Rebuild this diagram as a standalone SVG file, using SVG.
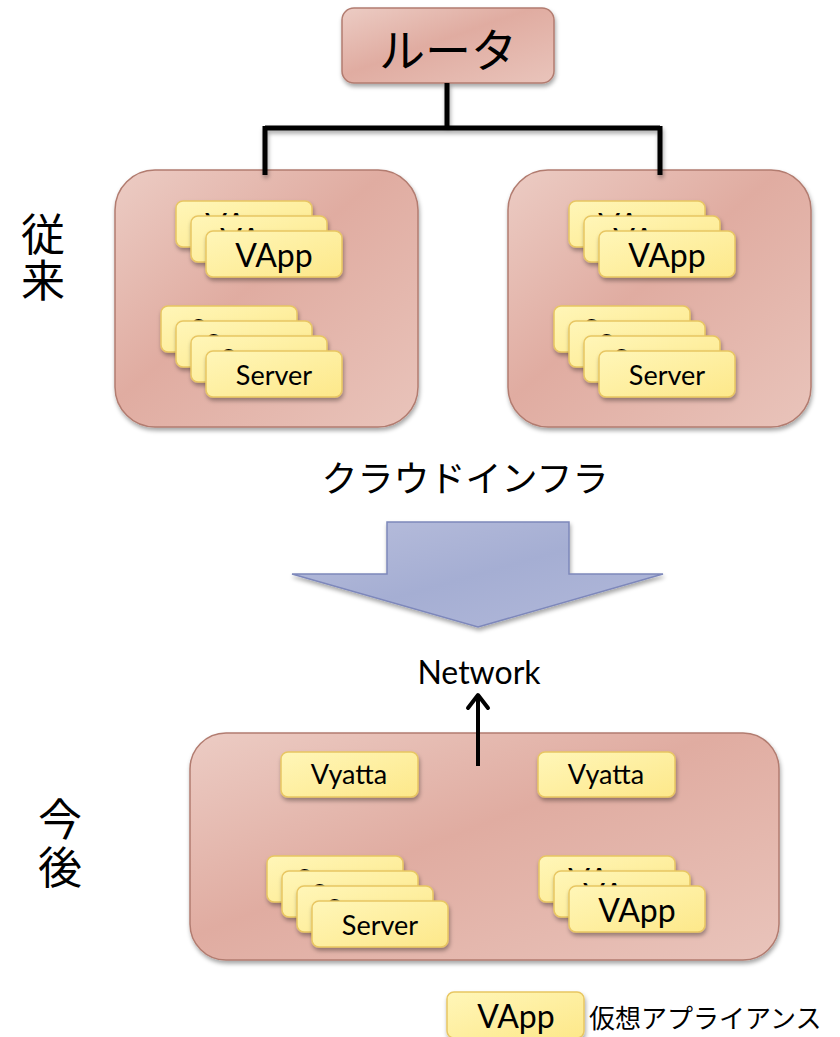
<svg xmlns="http://www.w3.org/2000/svg" width="840" height="1037" viewBox="0 0 840 1037">
<defs>
<linearGradient id="pink" x1="0" y1="0" x2="1" y2="1">
<stop offset="0" stop-color="#ecccc4"/>
<stop offset="0.45" stop-color="#e0aca1"/>
<stop offset="1" stop-color="#e9c4bb"/>
</linearGradient>
<linearGradient id="yellow" x1="0" y1="0" x2="1" y2="1">
<stop offset="0" stop-color="#fff6b8"/>
<stop offset="1" stop-color="#fde88a"/>
</linearGradient>
<linearGradient id="blue" x1="0" y1="0" x2="1" y2="1">
<stop offset="0" stop-color="#b8bedc"/>
<stop offset="0.5" stop-color="#a5aed3"/>
<stop offset="1" stop-color="#b2b9da"/>
</linearGradient>
<filter id="sh" x="-10%" y="-10%" width="125%" height="130%">
<feDropShadow dx="1" dy="3" stdDeviation="2" flood-color="#000" flood-opacity="0.35"/>
</filter>
</defs>
<style>
.box{fill:url(#pink);stroke:#b27c70;stroke-width:1.5;filter:url(#sh)}
.card{fill:url(#yellow);stroke:#e8c662;stroke-width:1.5;filter:url(#sh)}
.ct{font-family:Lato,"Liberation Sans",sans-serif;fill:#000;text-anchor:middle}
.va{font-size:32px}
.sv{font-size:27px}
.jp{font-family:"Noto Sans CJK JP","Noto Sans",sans-serif;fill:#000}
.line{stroke:#000;stroke-width:5;fill:none}
</style>

<g id="router">
<rect class="box" x="342" y="8" width="212" height="75" rx="12"/>
<text class="jp" x="448" y="67" font-size="46" text-anchor="middle">ルータ</text>
</g>

<g id="label-old">
<text class="jp" x="43" y="251" font-size="44" text-anchor="middle">従</text>
<text class="jp" x="43" y="297" font-size="44" text-anchor="middle">来</text>
</g>

<g id="cloud-left">
<rect class="box" x="115" y="170" width="303" height="257" rx="40"/>
<g id="vapp-left">
<rect class="card" x="176" y="201" width="136" height="46" rx="7"/><text class="ct va" x="244" y="237">VApp</text>
<rect class="card" x="191" y="216" width="136" height="46" rx="7"/><text class="ct va" x="259" y="252">VApp</text>
<rect class="card" x="206" y="231" width="136" height="46" rx="7"/><text class="ct va" x="274" y="267">VApp</text>
</g>
<g id="server-left">
<rect class="card" x="161" y="306" width="136" height="46" rx="7"/><text class="ct sv" x="229" y="339">Server</text>
<rect class="card" x="176" y="321" width="136" height="46" rx="7"/><text class="ct sv" x="244" y="354">Server</text>
<rect class="card" x="191" y="336" width="136" height="46" rx="7"/><text class="ct sv" x="259" y="369">Server</text>
<rect class="card" x="206" y="351" width="136" height="46" rx="7"/><text class="ct sv" x="274" y="385">Server</text>
</g>
</g>

<g id="cloud-right">
<rect class="box" x="508" y="170" width="303" height="257" rx="40"/>
<g id="vapp-right">
<rect class="card" x="569" y="201" width="136" height="46" rx="7"/><text class="ct va" x="637" y="237">VApp</text>
<rect class="card" x="584" y="216" width="136" height="46" rx="7"/><text class="ct va" x="652" y="252">VApp</text>
<rect class="card" x="599" y="231" width="136" height="46" rx="7"/><text class="ct va" x="667" y="267">VApp</text>
</g>
<g id="server-right">
<rect class="card" x="554" y="306" width="136" height="46" rx="7"/><text class="ct sv" x="622" y="339">Server</text>
<rect class="card" x="569" y="321" width="136" height="46" rx="7"/><text class="ct sv" x="637" y="354">Server</text>
<rect class="card" x="584" y="336" width="136" height="46" rx="7"/><text class="ct sv" x="652" y="369">Server</text>
<rect class="card" x="599" y="351" width="136" height="46" rx="7"/><text class="ct sv" x="667" y="385">Server</text>
</g>
</g>

<g id="cloud-label">
<text class="jp" x="465" y="492" font-size="36" text-anchor="middle">クラウドインフラ</text>
</g>

<g id="big-arrow">
<path d="M387,522 H569 V574 H663 L478,627 L292,574 H387 Z" fill="url(#blue)" stroke="#7e88bb" stroke-width="1.5" style="filter:url(#sh)"/>
</g>

<g id="network">
<text class="ct" x="479" y="684" font-size="32">Network</text>
</g>

<g id="label-new">
<text class="jp" x="60" y="836" font-size="44" text-anchor="middle">今</text>
<text class="jp" x="60" y="884" font-size="44" text-anchor="middle">後</text>
</g>

<g id="cloud-new">
<rect class="box" x="190" y="733" width="589" height="227" rx="36"/>
<g id="vyatta-1">
<rect class="card" x="281" y="752" width="137" height="45" rx="7"/><text class="ct sv" x="349" y="784">Vyatta</text>
</g>
<g id="vyatta-2">
<rect class="card" x="538" y="752" width="137" height="45" rx="7"/><text class="ct sv" x="606" y="784">Vyatta</text>
</g>
<g id="server-new">
<rect class="card" x="267" y="856" width="136" height="46" rx="7"/><text class="ct sv" x="335" y="889">Server</text>
<rect class="card" x="282" y="871" width="136" height="46" rx="7"/><text class="ct sv" x="350" y="904">Server</text>
<rect class="card" x="297" y="886" width="136" height="46" rx="7"/><text class="ct sv" x="365" y="919">Server</text>
<rect class="card" x="312" y="901" width="136" height="46" rx="7"/><text class="ct sv" x="380" y="935">Server</text>
</g>
<g id="vapp-new">
<rect class="card" x="539" y="856" width="136" height="46" rx="7"/><text class="ct va" x="607" y="892">VApp</text>
<rect class="card" x="554" y="871" width="136" height="46" rx="7"/><text class="ct va" x="622" y="907">VApp</text>
<rect class="card" x="569" y="886" width="136" height="46" rx="7"/><text class="ct va" x="637" y="922">VApp</text>
</g>
</g>

<g id="legend">
<rect class="card" x="447" y="992" width="137" height="46" rx="7"/><text class="ct va" x="516" y="1028">VApp</text>
<text class="jp" x="589" y="1028" font-size="26">仮想アプライアンス</text>
</g>

<g id="connectors">
<path class="line" d="M447,83 V128 M265,128 H660 M265,126 V175 M660,126 V175" style="filter:url(#sh)"/>
<path d="M478,766 V696" stroke="#000" stroke-width="4" fill="none"/>
<path d="M468,708 L478,695 L488,708" stroke="#000" stroke-width="4" fill="none" stroke-linecap="round" stroke-linejoin="round"/>
</g>
</svg>
